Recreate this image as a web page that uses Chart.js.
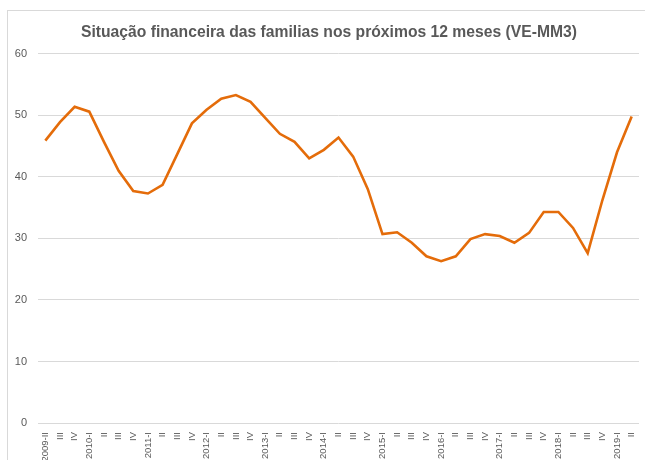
<!DOCTYPE html>
<html>
<head>
<meta charset="utf-8">
<script src="https://cdn.jsdelivr.net/npm/chart.js@4/dist/chart.umd.min.js"></script>
<style>
  body { margin: 0; background: #fff; }
  #frame { position: absolute; left: 7px; top: 10px; width: 700px; height: 500px; border: 1px solid #d9d9d9; }
  #chartBox { position: absolute; left: 0; top: 0; width: 645px; height: 460px; }
</style>
</head>
<body>
<div id="frame"></div>
<div id="chartBox"><canvas id="financeChart" width="645" height="460"></canvas></div>
<script>
"use strict"

// quarters, 2009-II to 2019-II
const quarters = [
    "2009-II", "III", "IV",
    "2010-I", "II", "III", "IV",
    "2011-I", "II", "III", "IV",
    "2012-I", "II", "III", "IV",
    "2013-I", "II", "III", "IV",
    "2014-I", "II", "III", "IV",
    "2015-I", "II", "III", "IV",
    "2016-I", "II", "III", "IV",
    "2017-I", "II", "III", "IV",
    "2018-I", "II", "III", "IV",
    "2019-I", "II"
]

// VE-MM3 values
const situacao = [
    45.9, 48.9, 51.4,
    50.6, 45.7, 41.0, 37.7,
    37.3, 38.7, 43.7, 48.7,
    50.9, 52.7, 53.3, 52.2,
    49.6, 47.0, 45.7, 43.0,
    44.4, 46.4, 43.3, 38.0,
    30.7, 31.0, 29.3, 27.1,
    26.3, 27.1, 29.9, 30.7,
    30.4, 29.3, 30.9, 34.3,
    34.3, 31.7, 27.6, 36.2,
    44.0, 49.8
]

const yTicks = [0, 10, 20, 30, 40, 50, 60]

const grey = '#595959'
const ctx = document.getElementById('financeChart')

// the original title sits a bit right of the canvas centre
const shiftTitle = {
    id: 'shiftTitle',
    afterLayout(chart) {
        if (chart.titleBlock) chart.titleBlock.left = 19
    }
}

let myChart = new Chart(ctx, {
    type: 'line',
    data: {
        labels: quarters,
        datasets: [{
            label: 'Situação financeira',
            data: situacao,
            borderColor: '#e46c0a',
            backgroundColor: '#e46c0a',
            borderWidth: 2.6,
            pointRadius: 0,
            tension: 0
        }]
    },
    plugins: [shiftTitle],
    options: {
        responsive: false,
        animation: false,
        layout: {
            padding: { left: 0, right: 6, top: 0, bottom: 0 }
        },
        plugins: {
            legend: { display: false },
            tooltip: { enabled: false },
            title: {
                display: true,
                text: 'Situação financeira das familias nos próximos 12 meses (VE-MM3)',
                color: grey,
                font: { family: 'Liberation Sans', size: 15.7, weight: 'bold' },
                padding: { top: 23, bottom: 12 }
            }
        },
        scales: {
            x: {
                offset: true,
                grid: { display: false },
                border: { display: false },
                ticks: {
                    color: grey,
                    font: { family: 'Liberation Sans', size: 9.5 },
                    autoSkip: false,
                    minRotation: 90,
                    maxRotation: 90,
                    padding: 1
                },
                afterFit: function (scale) { scale.height = 37 }
            },
            y: {
                min: 0,
                max: 60,
                afterBuildTicks: function (scale) {
                    scale.ticks = yTicks.map(v => ({ value: v }))
                },
                grid: { color: '#d9d9d9', drawTicks: false },
                border: { display: false },
                ticks: {
                    color: grey,
                    font: { family: 'Liberation Sans', size: 11 },
                    padding: 11
                },
                afterFit: function (scale) { scale.width = 38 }
            }
        }
    }
})
</script>
</body>
</html>
